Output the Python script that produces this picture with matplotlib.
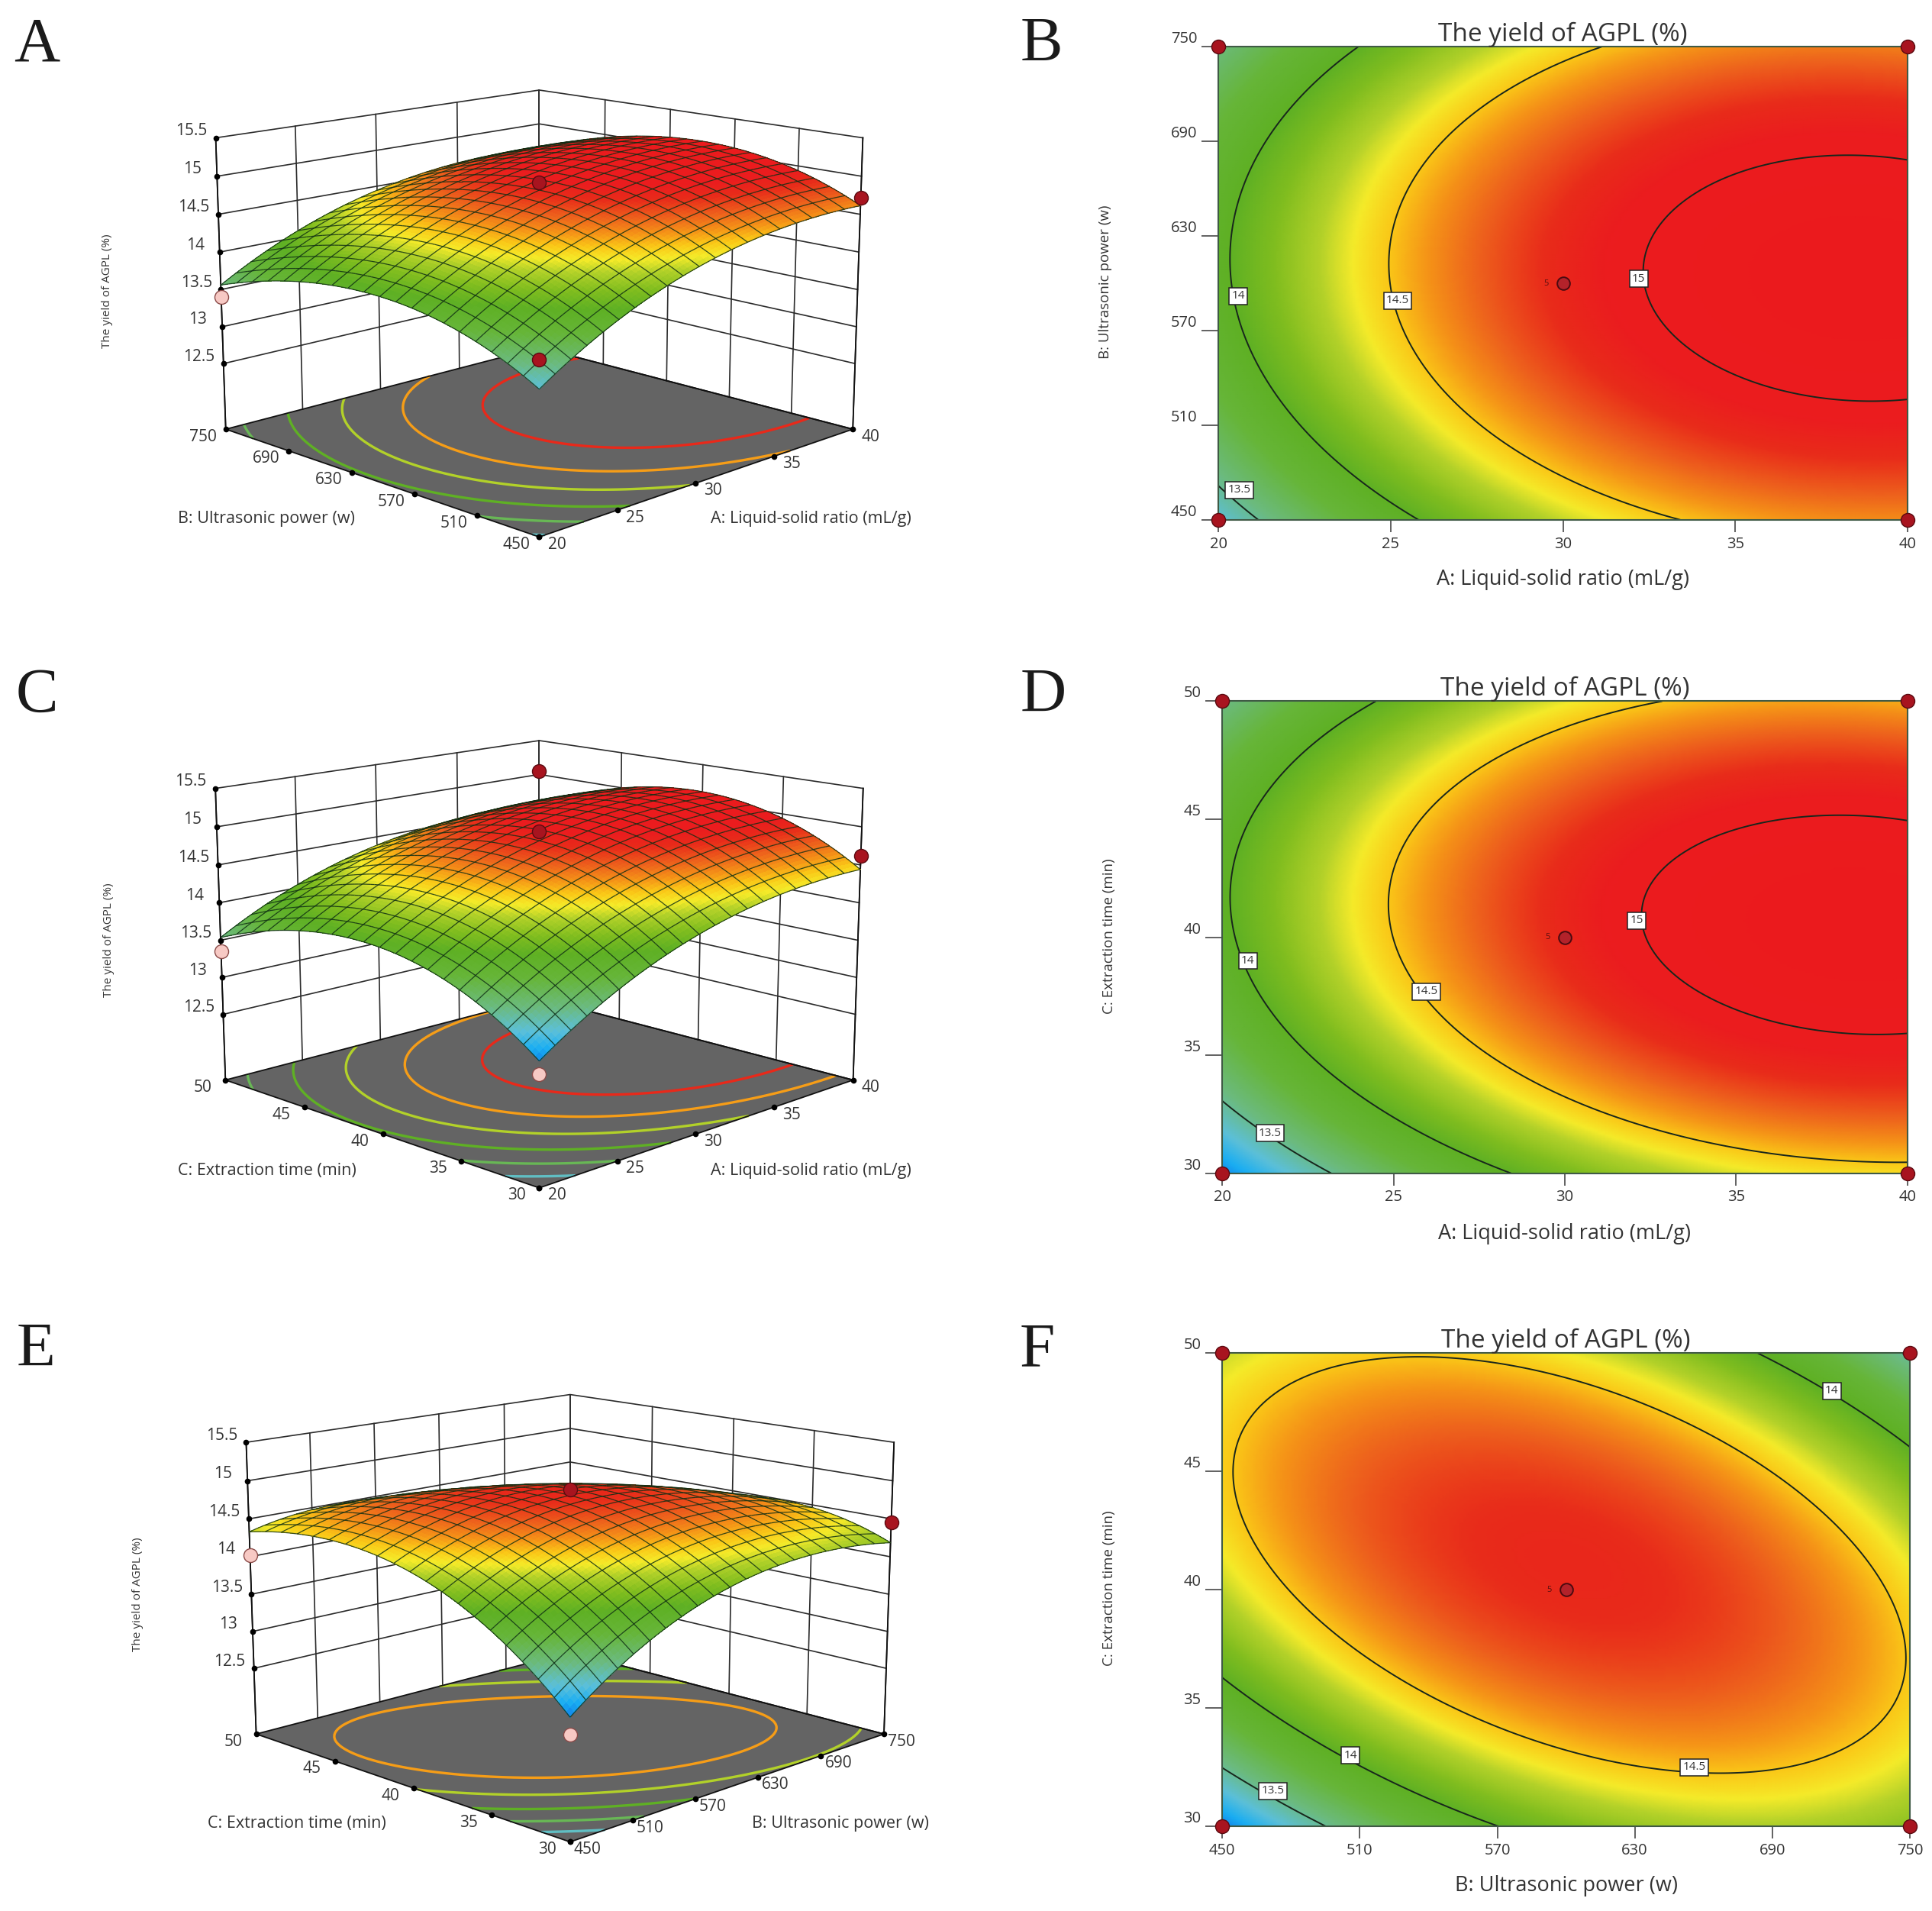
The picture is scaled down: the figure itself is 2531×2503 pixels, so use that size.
import numpy as np
import matplotlib
matplotlib.use("Agg")
import matplotlib.pyplot as plt
from matplotlib.colors import LinearSegmentedColormap, Normalize
from mpl_toolkits.mplot3d import proj3d
from mpl_toolkits.mplot3d.art3d import Line3DCollection

W, H = 2531, 2503
K = W / 1568.0
plt.rcParams['font.family'] = ['Open Sans', 'DejaVu Sans']

A_ticks = [20, 25, 30, 35, 40]
B_ticks = [450, 510, 570, 630, 690, 750]
C_ticks = [30, 35, 40, 45, 50]
Z_ticks = [12.5, 13, 13.5, 14, 14.5, 15, 15.5]
Z_floor = 11.6

A_label = 'A: Liquid-solid ratio (mL/g)'
B_label = 'B: Ultrasonic power (w)'
C_label = 'C: Extraction time (min)'
Z_label = 'The yield of AGPL (%)'
title = 'The yield of AGPL (%)'

# yield; rows follow the second factor, columns the first
yield_AB = [[13.352, 13.923, 14.323, 14.554, 14.614],
            [13.777, 14.337, 14.726, 14.946, 14.995],
            [13.953, 14.502, 14.880, 15.089, 15.127],
            [13.881, 14.419, 14.786, 14.984, 15.011],
            [13.560, 14.087, 14.443, 14.630, 14.646]]
yield_AC = [[13.106, 13.695, 14.113, 14.362, 14.440],
            [13.688, 14.256, 14.655, 14.883, 14.942],
            [13.953, 14.502, 14.880, 15.089, 15.127],
            [13.903, 14.431, 14.790, 14.978, 14.997],
            [13.536, 14.045, 14.383, 14.552, 14.550]]
yield_BC = [[13.080, 13.727, 14.127, 14.280, 14.186],
            [13.851, 14.375, 14.652, 14.682, 14.465],
            [14.316, 14.717, 14.871, 14.778, 14.439],
            [14.475, 14.754, 14.785, 14.569, 14.107],
            [14.329, 14.485, 14.393, 14.055, 13.470]]

floor_levels_A = [13.4, 13.7, 14, 14.3, 14.58, 14.86]
floor_levels_C = [13.4, 13.7, 14, 14.3, 14.58, 14.86]
floor_levels_E = [13.4, 13.7, 14, 14.3, 14.58]

# design points shown on the 3D plots: (first factor, second factor, yield, colour key)
points_A = [(30, 600, 14.98, 'r'), (40, 450, 14.72, 'r'), (20, 750, 13.40, 'p'), (20, 450, 13.70, 'r')]
points_C = [(30, 40, 15.0, 'r'), (40, 30, 14.62, 'r'), (20, 50, 13.35, 'p'), (20, 30, 12.95, 'p'), (40, 50, 15.05, 'r')]
points_E = [(600, 40, 14.95, 'r'), (750, 30, 14.45, 'r'), (450, 50, 14.02, 'p'), (450, 30, 12.88, 'p')]

stops = [(13.05, (0.05, 0.45, 0.90)), (13.20, (0.10, 0.68, 0.95)), (13.35, (0.36, 0.75, 0.85)),
         (13.55, (0.42, 0.73, 0.50)), (13.80, (0.40, 0.71, 0.22)), (14.00, (0.37, 0.69, 0.14)),
         (14.15, (0.50, 0.74, 0.12)), (14.30, (0.70, 0.82, 0.16)), (14.40, (0.96, 0.92, 0.16)),
         (14.50, (0.98, 0.78, 0.09)), (14.60, (0.96, 0.58, 0.09)), (14.72, (0.93, 0.38, 0.11)),
         (14.85, (0.91, 0.17, 0.10)), (14.95, (0.92, 0.11, 0.12)), (15.20, (0.92, 0.10, 0.11))]
zlo, zhi = stops[0][0], stops[-1][0]
cmap = LinearSegmentedColormap.from_list('de', [((v - zlo) / (zhi - zlo), c) for v, c in stops], N=512)
norm = Normalize(zlo, zhi)


def smooth(xt, yt, grid, n=81):
    xt, yt = np.array(xt, float), np.array(yt, float)
    xn = np.linspace(xt[0], xt[-1], 5)
    yn = np.linspace(yt[0], yt[-1], 5)
    sx = lambda x: (x - xt.mean()) / (xt[-1] - xt.mean())
    sy = lambda y: (y - yt.mean()) / (yt[-1] - yt.mean())
    U, V = np.meshgrid(sx(xn), sy(yn))
    vand = np.polynomial.polynomial.polyvander2d(U.ravel(), V.ravel(), [2, 2])
    coef, *_ = np.linalg.lstsq(vand, np.array(grid).ravel(), rcond=None)
    xf, yf = np.linspace(xt[0], xt[-1], n), np.linspace(yt[0], yt[-1], n)
    X, Y = np.meshgrid(xf, yf)
    vf = np.polynomial.polynomial.polyvander2d(sx(X).ravel(), sy(Y).ravel(), [2, 2])
    return X, Y, (vf @ coef).reshape(X.shape)


fig = plt.figure(figsize=(W / 100, H / 100), dpi=100, facecolor='white')


def ftext(bx, by, s, **kw):
    fig.text(bx * K / W, 1 - by * K / H, s, **kw)


def surface3d(xt, yt, grid, points, levels, xlabel, ylabel, base, xlab_pos, ylab_pos, zlab_pos):
    elev, azim, focal = 13.5, -135, 0.60
    aspect = (1.0, 1.0, 0.665)
    ax = fig.add_axes([0, 0, 1, 1], projection='3d', computed_zorder=False)
    ax.view_init(elev=elev, azim=azim)
    ax.set_proj_type('persp', focal_length=focal)
    ax.set_box_aspect(aspect)
    x0, x1, y0, y1 = xt[0], xt[-1], yt[0], yt[-1]
    z0, z1 = Z_floor, Z_ticks[-1]
    ax.set_xlim(x0, x1, view_margin=0)
    ax.set_ylim(y0, y1, view_margin=0)
    ax.set_zlim(z0, z1, view_margin=0)
    ax.set_axis_off()
    ax.patch.set_visible(False)

    # the reference keeps its horizontal ticks evenly spaced on screen
    g = 1 / 6

    def wx(v):
        l = (np.asarray(v, float) - x0) / (x1 - x0)
        return x0 + (x1 - x0) * l / (1 + g - g * l)

    def wy(v):
        l = (np.asarray(v, float) - y0) / (y1 - y0)
        return y0 + (y1 - y0) * l / (1 + g - g * l)

    # place the axes so the box corners land on the reference's corners
    corners = [(x0, y1, z0), (x0, y0, z0), (x1, y0, z0), (x0, y1, z1), (x1, y1, z1), (x1, y0, z1)]
    M = ax.get_proj()
    P = np.array([proj3d.proj_transform(*c, M)[:2] for c in corners])
    T = np.array([(p[0] * K, H - p[1] * K) for p in base])
    pm, tm = P.mean(0), T.mean(0)
    k = ((P - pm) * (T - tm)).sum() / ((P - pm) ** 2).sum()
    lox, hix = ax.viewLim.intervalx
    loy, hiy = ax.viewLim.intervaly
    S = k * (hix - lox)
    ox = tm[0] - k * (pm[0] - lox)
    oy = tm[1] - k * (pm[1] - loy)
    ax.set_position([ox / W, oy / H, S / W, S / H])

    def px(x, y, z):
        p = proj3d.proj_transform(x, y, z, M)
        return ox + k * (p[0] - lox), oy + k * (p[1] - loy)

    def tick_text(x, y, z, s, dx, dy):
        a, b = px(x, y, z)
        fig.text((a + dx) / W, (b + dy) / H, s, ha='center', va='center', fontsize=15, color='#333333')

    X0, Y0, Z = smooth(xt, yt, grid)
    X, Y = wx(X0), wy(Y0)

    # floor
    ax.plot_surface(np.array([[x0, x1], [x0, x1]]), np.array([[y0, y0], [y1, y1]]),
                    np.full((2, 2), z0), color='#646464', shade=False, zorder=1, linewidth=0)
    ax.contour(X, Y, Z, levels=levels, zdir='z', offset=z0,
               colors=[cmap(norm(v)) for v in levels], linewidths=2.4, zorder=2)

    wall = dict(color='#2b2b2b', lw=1.2, zorder=1)
    for z in Z_ticks:
        ax.plot([x0, x1, x1], [y1, y1, y0], [z, z, z], **wall)
    for x in wx(xt):
        ax.plot([x, x], [y1, y1], [z0, z1], **wall)
    for y in wy(yt):
        ax.plot([x1, x1], [y, y], [z0, z1], **wall)
    ax.plot([x0, x0, x1, x1], [y1, y0, y0, y1], [z0, z0, z0, z0], color='#111111', lw=1.3, zorder=2)
    ax.plot([x0, x1], [y1, y1], [z0, z0], color='#111111', lw=1.3, zorder=2)
    ax.plot([x1, x1], [y1, y0], [z0, z0], color='#111111', lw=1.3, zorder=2)

    # response surface
    cols = cmap(norm(0.25 * (Z[:-1, :-1] + Z[1:, :-1] + Z[:-1, 1:] + Z[1:, 1:])))
    ax.plot_surface(X, Y, Z, facecolors=cols, rstride=1, cstride=1, shade=False,
                    linewidth=0.3, edgecolor='none', antialiased=False, zorder=3)

    # mesh, leaving out parts that face away from the viewer
    sx = aspect[0] / (x1 - x0)
    sy = aspect[1] / (y1 - y0)
    sz = aspect[2] / (z1 - z0)
    dZy, dZx = np.gradient(Z, Y0[:, 0], X0[0, :])
    e, a = np.radians(elev), np.radians(azim)
    view = np.array([np.cos(e) * np.cos(a), np.cos(e) * np.sin(a), np.sin(e)])
    vis = (-dZx * sz / sx * view[0] - dZy * sz / sy * view[1] + view[2]) > 0
    segs = []
    step = 4
    for i in range(0, X.shape[0], step):
        for j in range(X.shape[1] - 1):
            if vis[i, j]:
                segs.append([(X[i, j], Y[i, j], Z[i, j]), (X[i, j + 1], Y[i, j + 1], Z[i, j + 1])])
    for j in range(0, X.shape[1], step):
        for i in range(X.shape[0] - 1):
            if vis[i, j]:
                segs.append([(X[i, j], Y[i, j], Z[i, j]), (X[i + 1, j], Y[i + 1, j], Z[i + 1, j])])
    ax.add_collection3d(Line3DCollection(segs, colors=[(0.06, 0.18, 0.08, 0.85)], linewidths=0.9, zorder=4))

    # vertical edges and tick dots
    ax.plot([x0, x0], [y1, y1], [z0, z1], color='#111111', lw=1.3, zorder=2)
    ax.plot([x1, x1], [y0, y0], [z0, z1], color='#111111', lw=1.3, zorder=2)
    dot = dict(marker='o', ms=4.5, color='black', ls='none', zorder=5)
    ax.plot(list(wx(xt)), [y0] * len(xt), [z0] * len(xt), **dot)
    ax.plot([x0] * len(yt), list(wy(yt)), [z0] * len(yt), **dot)
    ax.plot([x0] * len(Z_ticks), [y1] * len(Z_ticks), Z_ticks, **dot)

    colours = {'r': ('#a8141f', '#5a0a10'), 'p': ('#f7c9c4', '#8a4a48')}
    for x, y, z, c in points:
        ax.plot([float(wx(x))], [float(wy(y))], [z], 'o', ms=13, mfc=colours[c][0], mec=colours[c][1], mew=1.0, zorder=6)

    for v in xt:
        tick_text(float(wx(v)), y0, z0, str(v), 23, -10)
    for v in yt:
        tick_text(x0, float(wy(v)), z0, str(v), -30, -10)
    for v in Z_ticks:
        tick_text(x0, y1, v, f'{v:g}', -32, 9)

    ftext(*xlab_pos, xlabel, ha='center', va='center', fontsize=15.5, color='#333333')
    ftext(*ylab_pos, ylabel, ha='center', va='center', fontsize=15.5, color='#333333')
    ftext(*zlab_pos, Z_label, ha='center', va='center', rotation=90, fontsize=11, color='#333333')


def contour2d(xt, yt, grid, rect, xlabel, ylabel, labels, ylab_x, xlab_y, title_y):
    l, t, r, b = rect
    ax = fig.add_axes([l * K / W, 1 - b * K / H, (r - l) * K / W, (b - t) * K / H])
    X, Y, Z = smooth(xt, yt, grid, n=201)
    ax.pcolormesh(X, Y, Z, shading='gouraud', cmap=cmap, norm=norm, rasterized=True)
    ax.contour(X, Y, Z, levels=[13.5, 14, 14.5, 15], colors='#18261c', linewidths=1.4)
    for x, y, s in labels:
        ax.text(x, y, s, ha='center', va='center', fontsize=11, color='#333333', zorder=5,
                bbox=dict(boxstyle='square,pad=0.22', fc='white', ec='#222222', lw=1.1))
    ax.set_xlim(xt[0], xt[-1])
    ax.set_ylim(yt[0], yt[-1])
    ax.set_xticks(xt)
    ax.set_yticks(yt)
    ax.tick_params(width=1.3, color='#555555', labelsize=14.5, labelcolor='#333333')
    ax.tick_params(axis='y', length=16, pad=4)
    ax.tick_params(axis='x', length=11.5, pad=4)
    for lab in ax.get_yticklabels():
        lab.set_va('bottom')
    for sp in ax.spines.values():
        sp.set_color('#3f5a45')
        sp.set_linewidth(1.5)
    xc, yc = 0.5 * (xt[0] + xt[-1]), 0.5 * (yt[0] + yt[-1])
    for x in (xt[0], xt[-1]):
        for y in (yt[0], yt[-1]):
            ax.plot([x], [y], 'o', ms=13, mfc='#a8141f', mec='#5a0a10', mew=1.0, clip_on=False, zorder=6)
    ax.plot([xc], [yc], 'o', ms=12, mfc='#b3222a', mec='#4a0a10', mew=1.4, zorder=6)
    ax.annotate('5', (xc, yc), xytext=(-22, 0), textcoords='offset pixels', ha='center', va='center',
                fontsize=8, color='#5a1010', zorder=6)
    ftext((l + r) / 2, title_y, title, ha='center', va='center', fontsize=24, color='#333333')
    ftext((l + r) / 2, xlab_y, xlabel, ha='center', va='center', fontsize=19.5, color='#333333')
    ftext(ylab_x, (t + b) / 2 - 1, ylabel, ha='center', va='center', rotation=90, fontsize=13.5, color='#333333')


surface3d(A_ticks, B_ticks, yield_AB, points_A, floor_levels_A, A_label, B_label,
          [(187, 350), (437, 433), (690, 350), (172, 112), (437, 72), (703, 112)],
          (658, 421), (216, 421), (87, 236))
surface3d(A_ticks, C_ticks, yield_AC, points_C, floor_levels_C, A_label, C_label,
          [(187, 877), (437, 962), (690, 879), (172, 640), (437, 599), (703, 640)],
          (658, 950), (217, 950), (88, 763))
surface3d(B_ticks, C_ticks, yield_BC, points_E, floor_levels_E, B_label, C_label,
          [(212, 1408), (462, 1494), (715, 1408), (197, 1170), (462, 1131), (728, 1170)],
          (682, 1480), (241, 1480), (112, 1294))

contour2d(A_ticks, B_ticks, yield_AB, (989, 38, 1548, 422), A_label, B_label,
          [(20.57, 592, '14'), (25.2, 589, '14.5'), (32.2, 603, '15'), (20.6, 469, '13.5')], 897, 470, 28)
contour2d(A_ticks, C_ticks, yield_AC, (992, 569, 1548, 952), A_label, C_label,
          [(20.75, 39, '14'), (25.95, 37.7, '14.5'), (32.1, 40.7, '15'), (21.4, 31.7, '13.5')], 900, 1001, 559)
contour2d(B_ticks, C_ticks, yield_BC, (992, 1098, 1550, 1482), B_label, C_label,
          [(716, 48.4, '14'), (656, 32.5, '14.5'), (506, 33, '14'), (472, 31.5, '13.5')], 900, 1530, 1088)

for s, x, y in [('A', 30, 37), ('B', 845, 37), ('C', 30, 565), ('D', 847, 565), ('E', 29, 1096), ('F', 842, 1096)]:
    ftext(x, y, s, ha='center', va='center', fontsize=60, color='#1a1a1a', family=['Liberation Serif'])

fig.savefig('out.png', dpi=100)
